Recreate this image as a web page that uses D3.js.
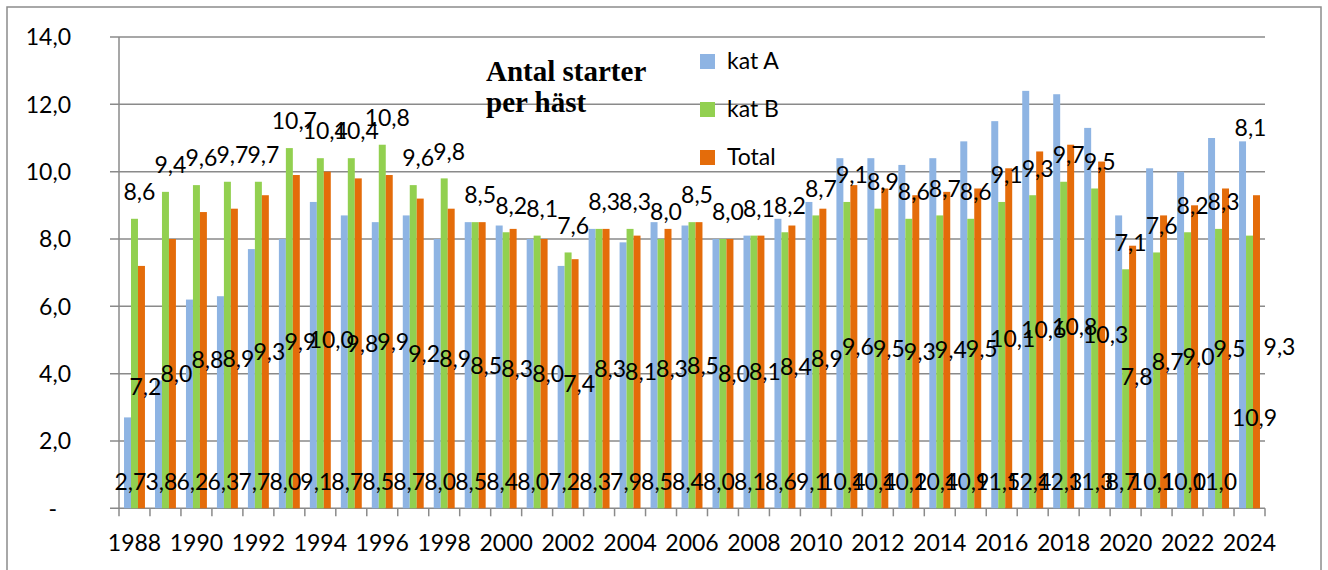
<!DOCTYPE html>
<html>
<head>
<meta charset="utf-8">
<script src="https://cdn.jsdelivr.net/npm/d3@7"></script>
<style>
  body { margin: 0; background: #fff; }
  svg { display: block; }
</style>
</head>
<body>
<div id="chart"></div>
<script>
// data
var years = [1988, 1989, 1990, 1991, 1992, 1993, 1994, 1995, 1996, 1997, 1998, 1999,
             2000, 2001, 2002, 2003, 2004, 2005, 2006, 2007, 2008, 2009, 2010, 2011,
             2012, 2013, 2014, 2015, 2016, 2017, 2018, 2019, 2020, 2021, 2022, 2023, 2024];
var katA = [2.7, 3.8, 6.2, 6.3, 7.7, 8.0, 9.1, 8.7, 8.5, 8.7, 8.0, 8.5,
            8.4, 8.0, 7.2, 8.3, 7.9, 8.5, 8.4, 8.0, 8.1, 8.6, 9.1, 10.4,
            10.4, 10.2, 10.4, 10.9, 11.5, 12.4, 12.3, 11.3, 8.7, 10.1, 10.0, 11.0, 10.9];
var katB = [8.6, 9.4, 9.6, 9.7, 9.7, 10.7, 10.4, 10.4, 10.8, 9.6, 9.8, 8.5,
            8.2, 8.1, 7.6, 8.3, 8.3, 8.0, 8.5, 8.0, 8.1, 8.2, 8.7, 9.1,
            8.9, 8.6, 8.7, 8.6, 9.1, 9.3, 9.7, 9.5, 7.1, 7.6, 8.2, 8.3, 8.1];
var total = [7.2, 8.0, 8.8, 8.9, 9.3, 9.9, 10.0, 9.8, 9.9, 9.2, 8.9, 8.5,
             8.3, 8.0, 7.4, 8.3, 8.1, 8.3, 8.5, 8.0, 8.1, 8.4, 8.9, 9.6,
             9.5, 9.3, 9.4, 9.5, 10.1, 10.6, 10.8, 10.3, 7.8, 8.7, 9.0, 9.5, 9.3];
var seriesNames = ["kat A", "kat B", "Total"];
var yTicks = [0, 2, 4, 6, 8, 10, 12, 14];

var colors = {"kat A": "#8eb4e3", "kat B": "#92d050", "Total": "#e46c0a"};
var font = "Lato, 'Open Sans', sans-serif";

var svg = d3.select("#chart").append("svg")
    .attr("width", 1328)
    .attr("height", 570);

// outer frame
svg.append("rect")
   .attr("x", 7).attr("y", 7)
   .attr("width", 1314).attr("height", 580)
   .style("fill", "none")
   .style("stroke", "#8c8c8c")
   .style("stroke-width", "1.5px");

var x0 = d3.scaleBand().domain(years).range([119, 1265]).padding(0),
    x1 = d3.scaleBand().domain(seriesNames).range([0, x0.bandwidth()]).paddingInner(0).paddingOuter(0.72),
    y = d3.scaleLinear().domain([0, 14]).range([508.3, 37]);

// gridlines
svg.append("g").selectAll("line")
   .data(yTicks)
   .enter().append("line")
   .attr("x1", 110).attr("x2", 1265)
   .attr("y1", function(d) { return y(d); })
   .attr("y2", function(d) { return y(d); })
   .style("stroke", "#8a8a8a")
   .style("stroke-width", "1.5px");

// y axis line and category ticks
svg.append("line")
   .attr("x1", 119).attr("x2", 119)
   .attr("y1", y(14)).attr("y2", y(0))
   .style("stroke", "#8a8a8a").style("stroke-width", "1.5px");

svg.append("g").selectAll("line")
   .data(years.concat([null]))
   .enter().append("line")
   .attr("x1", function(d, i) { return 119 + i * x0.step(); })
   .attr("x2", function(d, i) { return 119 + i * x0.step(); })
   .attr("y1", y(0)).attr("y2", y(0) + 8)
   .style("stroke", "#8a8a8a").style("stroke-width", "1.5px");

// y tick labels
svg.append("g").selectAll("text")
   .data(yTicks)
   .enter().append("text")
   .attr("x", function(d) { return d === 0 ? 57 : 71; })
   .attr("y", function(d) { return y(d); })
   .attr("dy", "0.36em")
   .attr("text-anchor", "end")
   .style("font-family", font)
   .style("font-size", "23px")
   .text(function(d) { return d === 0 ? "-" : d.toFixed(1).replace(".", ","); });

// year labels, every second year
svg.append("g").selectAll("text")
   .data(years.filter(function(d, i) { return i % 2 === 0; }))
   .enter().append("text")
   .attr("x", function(d) { return x0(d) + x0.bandwidth() / 2; })
   .attr("y", 551)
   .attr("text-anchor", "middle")
   .style("font-family", font)
   .style("font-size", "23px")
   .text(function(d) { return d; });

// bars
var values = {"kat A": katA, "kat B": katB, "Total": total};
seriesNames.forEach(function(s) {
  svg.append("g").selectAll("rect")
     .data(values[s])
     .enter().append("rect")
     .attr("x", function(d, i) { return x0(years[i]) + x1(s); })
     .attr("width", x1.bandwidth())
     .attr("y", function(d) { return y(d); })
     .attr("height", function(d) { return y(0) - y(d); })
     .style("fill", colors[s]);
});

// data labels (placed the way the original chart has them)
function fmt(v) { return v.toFixed(1).replace(".", ","); }
function labelPos(s, i, v) {
  var c = x0(years[i]) + x0.bandwidth() / 2;
  var yr = years[i];
  if (s === "kat A") {
    if (yr === 2024) return [c + 5, y(2.7)];
    return [c - 4, y(0) - 27];
  }
  if (s === "kat B") {
    if (yr === 2024) return [c + 1, y(katA[i]) - 14];
    return [c + 5, y(v) - 27];
  }
  if (yr === 2024) return [c + 30, y(4.8)];
  return [c + 11, y(v / 2)];
}
seriesNames.forEach(function(s) {
  svg.append("g").selectAll("text")
     .data(values[s])
     .enter().append("text")
     .attr("x", function(d, i) { return labelPos(s, i, d)[0]; })
     .attr("y", function(d, i) { return labelPos(s, i, d)[1]; })
     .attr("dy", "0.36em")
     .attr("text-anchor", "middle")
     .style("font-family", font)
     .style("font-size", "23px")
     .style("fill", "#000")
     .text(fmt);
});

// title
var title = svg.append("text")
   .attr("x", 486).attr("y", 81)
   .style("font-family", "'Liberation Serif', 'Times New Roman', serif")
   .style("font-weight", "bold")
   .style("font-size", "29px");
title.append("tspan").attr("x", 486).text("Antal starter");
title.append("tspan").attr("x", 486).attr("dy", 31).text("per häst");

// legend
var legend = svg.append("g").selectAll("g")
   .data(seriesNames)
   .enter().append("g")
   .attr("transform", function(d, i) { return "translate(700," + (54 + i * 48) + ")"; });
legend.append("rect")
   .attr("width", 15).attr("height", 15)
   .style("fill", function(d) { return colors[d]; });
legend.append("text")
   .attr("x", 27).attr("y", 15)
   .style("font-family", font)
   .style("font-size", "23px")
   .text(function(d) { return d; });
</script>
</body>
</html>
